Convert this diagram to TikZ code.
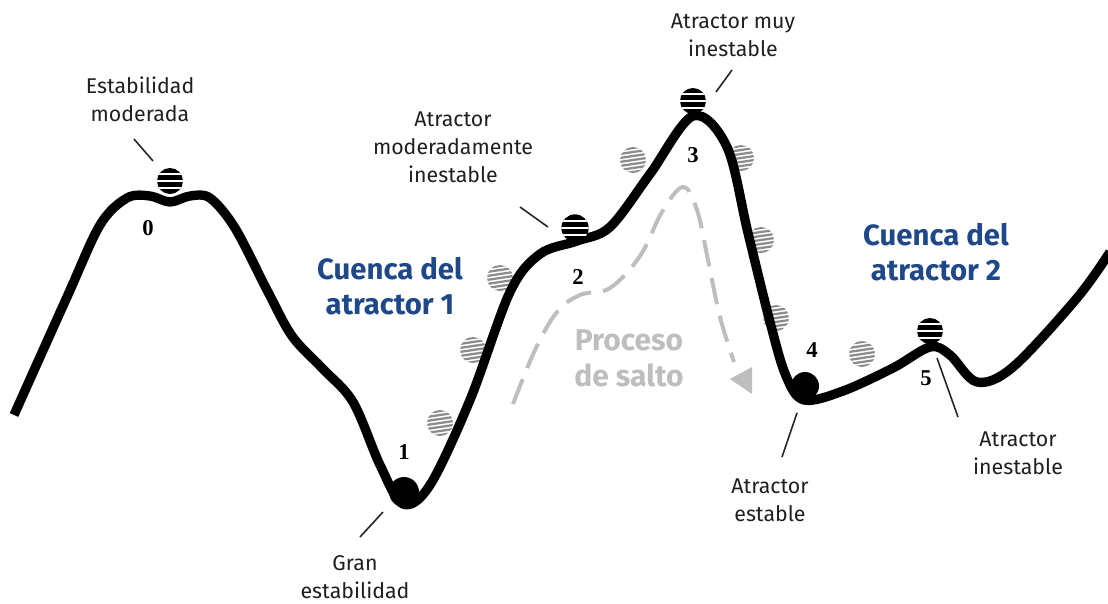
\documentclass[tikz,border=0pt]{standalone}
\usepackage{fontspec}
\setmainfont{Fira Sans}
\newfontfamily\numfont{Liberation Serif}
\usetikzlibrary{calc}
\definecolor{basin}{RGB}{30,72,138}
\definecolor{jump}{RGB}{190,190,190}
\definecolor{hatch}{RGB}{140,140,140}
\begin{document}
\begin{tikzpicture}[x=0.75pt,y=-0.75pt,
  lbl/.style={align=center, font=\fontsize{16}{21}\selectfont, text=black!88, inner sep=0},
  basinlbl/.style={align=center, font=\fontsize{22}{26.5}\selectfont\bfseries, text=basin, inner sep=0},
  jumplbl/.style={align=center, font=\fontsize{22.5}{27}\selectfont\bfseries, text=jump, inner sep=0},
  num/.style={font=\numfont\bfseries\fontsize{17}{17}\selectfont, inner sep=0},
  pointer/.style={line width=1.2pt, black!85},
  stripeball/.style={circle, fill=black, inner sep=0, minimum size=19.5pt, path picture={
     \foreach \d in {-7,0,7} \draw[white, line width=2pt] ($(path picture bounding box.center)+(-20,\d)$) -- ++(40,0);}},
  hatchball/.style={circle, fill=white, inner sep=0, minimum size=19.5pt, path picture={
     \foreach \d in {-12,-8,...,12} \draw[hatch, line width=1.7pt] ($(path picture bounding box.center)+(-20,\d+3)$) -- ++(40,-6);}},
  blackball/.style={circle, fill=black, inner sep=0},
  landscape/.style={line width=7pt, line join=round},
  jumppath/.style={jump, line width=3pt, dash pattern=on 20pt off 9pt}
]
\useasboundingbox (0,0) rectangle (1108,604);

% hatched (rolling) balls behind the curve
\node[hatchball] (h1) at (440,423) {};
\node[hatchball] (h2) at (473,350) {};
\node[hatchball] (h3) at (500,278) {};
\node[hatchball] (h4) at (633,160) {};
\node[hatchball] (h5) at (741,158) {};
\node[hatchball] (h6) at (761,240) {};
\node[hatchball] (h7) at (776,318) {};
\node[hatchball] (h8) at (862,354) {};

% landscape
\draw[landscape] plot[smooth, tension=0.55] coordinates {
 (14,415) (67,297) (100,225) (127,198) (150,196) (170,202) (190,196) (210,198)
 (235,228) (267,290) (292,336) (322,368) (353,402) (380,465) (403,504) (430,485)
 (470,400) (510,292) (540,254) (577,241) (610,227) (650,174) (693,116) (727,147)
 (748,233) (770,322) (786,376) (804,400) (843,391) (893,368) (930,347) (950,355)
 (977,382) (1013,367) (1077,298) (1110,252)};

% balls on the curve
\node[stripeball] (b0) at (170,181) {};
\node[stripeball, minimum size=20.5pt] (b2) at (575,228) {};
\node[stripeball] (b3) at (693,101) {};
\node[stripeball] (b5) at (930,331) {};
\node[blackball, minimum size=22.5pt] (b1) at (404,492) {};
\node[blackball, minimum size=21pt] (b4) at (805,386) {};

% numbers
\node[num] (n0) at (148,228) {0};
\node[num] (n1) at (404,452) {1};
\node[num] (n2) at (578,277) {2};
\node[num] (n3) at (693,155) {3};
\node[num] (n4) at (812,350) {4};
\node[num] (n5) at (926,378) {5};

% jump process
\coordinate (j0) at (513,404);
\coordinate (j1) at (734,362);
\draw[jumppath] plot[smooth, tension=0.6] coordinates {
 (j0) (535,350) (557,312) (580,295) (610,288) (640,256) (662,212) (683,187)
 (697,210) (708,260) (720,317) (j1)};
\fill[jump] (752,367) -- (730,379) -- (752,394) -- cycle;
\node[jumplbl] (proc) at (629,358) {Proceso\\de salto};

% basin labels
\node[basinlbl] (c1) at (390,286) {Cuenca del\\atractor 1};
\node[basinlbl] (c2) at (936,252) {Cuenca del\\atractor 2};

% annotation labels
\node[lbl] (l0) at (140,99) {Estabilidad\\moderada};
\node[lbl] (l2) at (453,147) {Atractor\\moderadamente\\inestable};
\node[lbl] (l3) at (733,35) {Atractor muy\\inestable};
\node[lbl] (l1) at (355,577) {Gran\\estabilidad};
\node[lbl] (l4) at (770,500) {Atractor\\estable};
\node[lbl] (l5) at (1018,453) {Atractor\\inestable};

% pointers
\coordinate (p0a) at (134,139); \coordinate (p0b) at (153,161);
\coordinate (p2a) at (520,207); \coordinate (p2b) at (548,227);
\coordinate (p3a) at (732,70);  \coordinate (p3b) at (716,92);
\coordinate (p1a) at (383,512); \coordinate (p1b) at (360,537);
\coordinate (p4a) at (797,413); \coordinate (p4b) at (782,457);
\coordinate (p5a) at (937,358); \coordinate (p5b) at (958,417);
\draw[pointer] (p0a) -- (p0b);
\draw[pointer] (p2a) -- (p2b);
\draw[pointer] (p3a) -- (p3b);
\draw[pointer] (p1a) -- (p1b);
\draw[pointer] (p4a) -- (p4b);
\draw[pointer] (p5a) -- (p5b);
\end{tikzpicture}
\end{document}
